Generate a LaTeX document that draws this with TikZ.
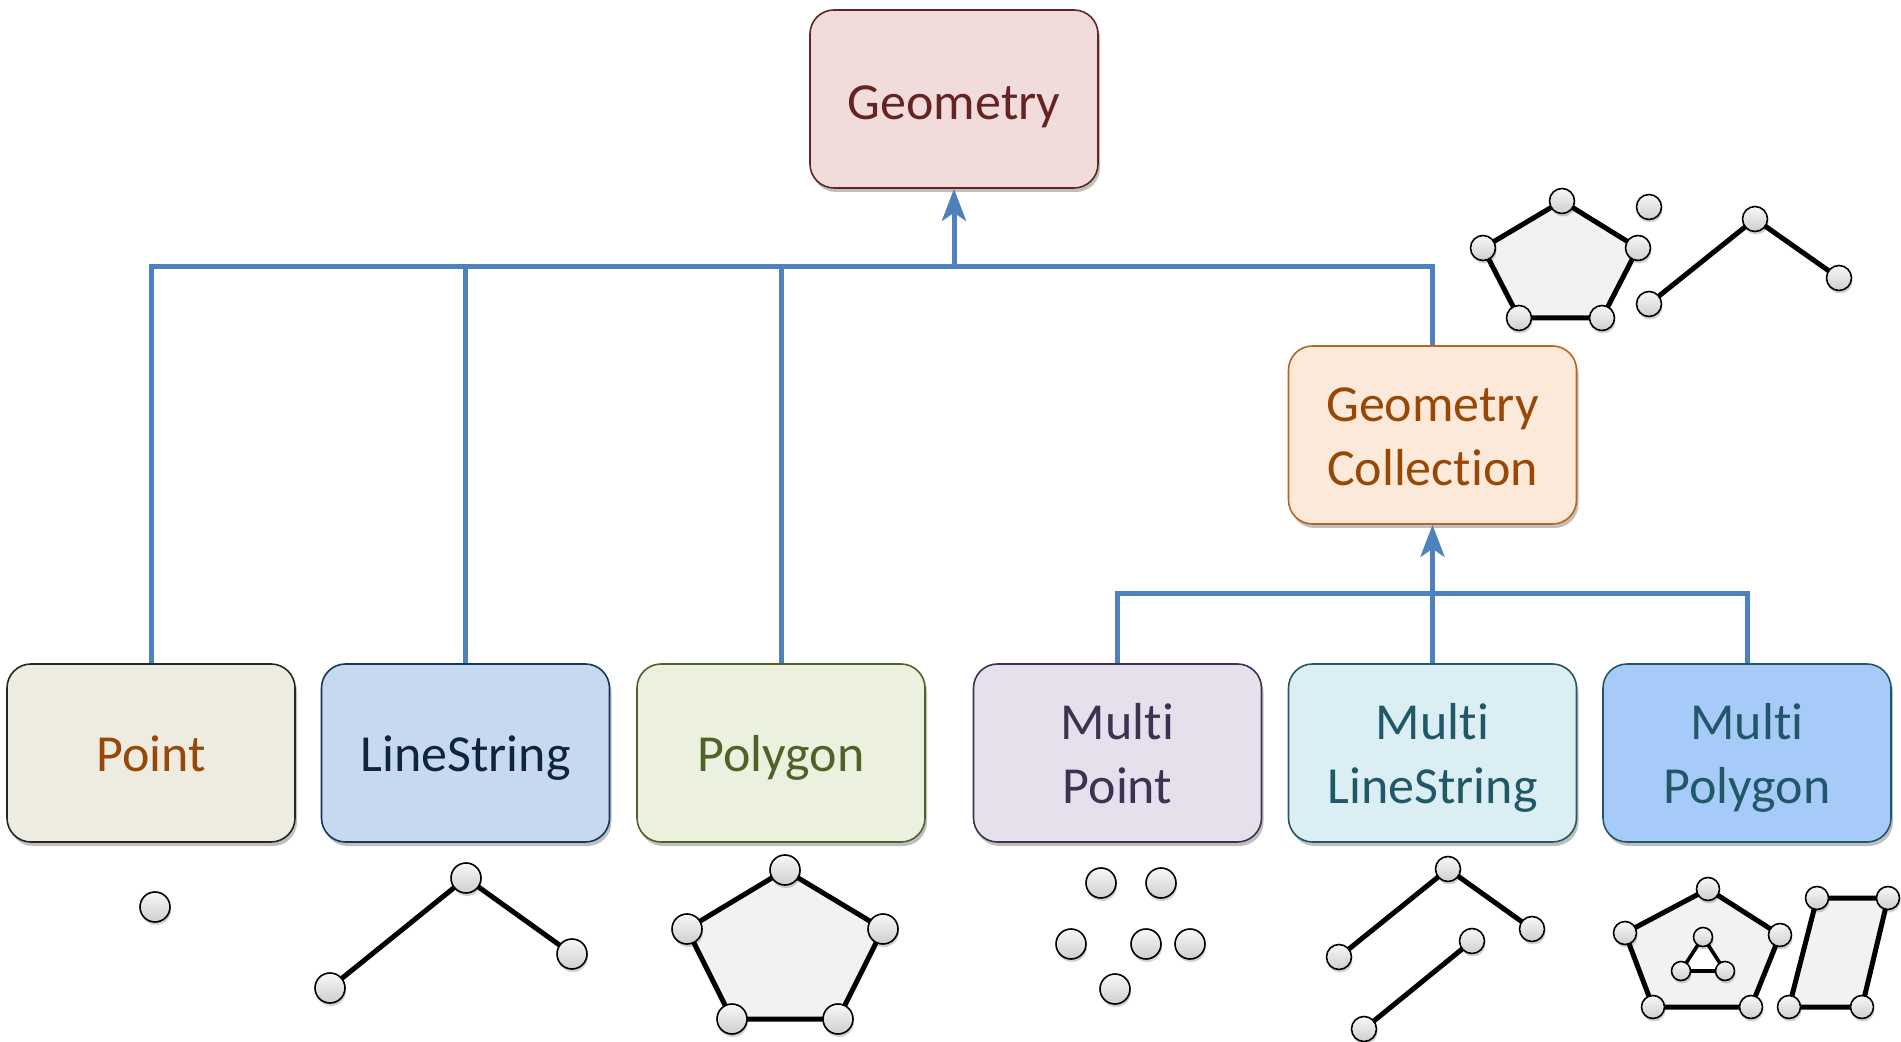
\documentclass[tikz,border=0pt]{standalone}
\usepackage{fontspec}
\setmainfont{Carlito}[Ligatures={NoCommon}]
\usetikzlibrary{shadows,arrows.meta}
\definecolor{connc}{HTML}{4F81BD}
\definecolor{polyfill}{HTML}{F2F2F2}
\definecolor{geomF}{HTML}{F2DCDB}\definecolor{geomD}{HTML}{632523}
\definecolor{gcolF}{HTML}{FDE9D9}\definecolor{gcolD}{HTML}{B9641F}\definecolor{gcolT}{HTML}{984806}
\definecolor{ptF}{HTML}{EEECE1}\definecolor{ptD}{HTML}{262626}
\definecolor{lsF}{HTML}{C6D9F1}\definecolor{lsD}{HTML}{17365D}\definecolor{lsT}{HTML}{0F243E}
\definecolor{pgF}{HTML}{EBF1DE}\definecolor{pgD}{HTML}{4F6228}
\definecolor{mpF}{HTML}{E5E0EC}\definecolor{mpD}{HTML}{3F3151}
\definecolor{mlsF}{HTML}{DBEEF4}\definecolor{mlsD}{HTML}{215868}
\definecolor{mpgF}{HTML}{A6CBF8}
\tikzset{
  box/.style={rectangle, rounded corners=12pt, minimum width=144pt, minimum height=89pt,
    inner sep=0pt, line width=0.8pt, font=\fontsize{26}{32}\selectfont,
    drop shadow={shadow xshift=1pt, shadow yshift=-2pt, opacity=0.25, fill=black}},
  conn/.style={draw=connc, line width=2.5pt},
  arr/.style={conn, -{Stealth[length=16pt,width=12pt,inset=4pt]}},
  iedge/.style={draw=black, line width=2.5pt, line join=round},
  ipoly/.style={iedge, fill=polyfill},
}
\newcommand\boxtext[2][3pt]{\raisebox{-#1}[\height][\depth]{\begin{tabular}{@{}c@{}}#2\end{tabular}}}
\newcommand\gvertex[3]{%
  \fill[black,opacity=.18] (#1+1,#2+3) circle[radius=#3];
  \shadedraw[top color=gray!6, bottom color=gray!38, draw=black, line width=0.8pt] (#1,#2) circle[radius=#3];}
\begin{document}
\begin{tikzpicture}[x=0.5pt,y=-0.5pt]
\useasboundingbox (0,0) rectangle (1901,1042);

% nodes
\node[box, fill=geomF, draw=geomD, text=geomD] (geom) at (954,99) {\boxtext[4pt]{Geometry}};
\node[box, fill=gcolF, draw=gcolD, text=gcolT] (gcol) at (1432.5,435) {\boxtext{Geometry\\Collection}};
\node[box, fill=ptF, draw=ptD, text=gcolT] (pt) at (151,753) {\boxtext{Point}};
\node[box, fill=lsF, draw=lsD, text=lsT] (ls) at (465.5,753) {\boxtext{LineString}};
\node[box, fill=pgF, draw=pgD, text=pgD] (pg) at (781,753) {\boxtext{Polygon}};
\node[box, fill=mpF, draw=mpD, text=mpD] (mp) at (1117.5,753) {\boxtext{Multi\\Point}};
\node[box, fill=mlsF, draw=mlsD, text=mlsD] (mls) at (1432.5,753) {\boxtext{Multi\\LineString}};
\node[box, fill=mpgF, draw=mlsD, text=mlsD] (mpg) at (1747,753) {\boxtext{Multi\\Polygon}};

% connectors
\coordinate (j1) at (954,267);
\coordinate (j2) at (1432.5,594);
\draw[conn] (pt.north) |- (j1);
\draw[conn] (ls.north) |- (j1);
\draw[conn] (pg.north) |- (j1);
\draw[conn] (gcol.north) |- (j1);
\draw[arr] (j1) -- (geom.south);
\draw[conn] (mp.north) |- (j2);
\draw[conn] (mpg.north) |- (j2);
\draw[arr] (mls.north) -- (gcol.south);

% Point icon
\gvertex{155}{907}{7.5pt}
% LineString icon
\draw[iedge] (330,988) -- (466,878) -- (572,954);
\gvertex{330}{988}{7.5pt}\gvertex{466}{878}{7.5pt}\gvertex{572}{954}{7.5pt}
% Polygon icon
\draw[ipoly] (785,870) -- (883,929) -- (838,1019) -- (732,1019) -- (687,929) -- cycle;
\gvertex{785}{870}{7.5pt}\gvertex{883}{929}{7.5pt}\gvertex{838}{1019}{7.5pt}\gvertex{732}{1019}{7.5pt}\gvertex{687}{929}{7.5pt}
% MultiPoint icon
\gvertex{1101}{883}{7.5pt}\gvertex{1161}{883}{7.5pt}\gvertex{1071}{944}{7.5pt}
\gvertex{1146}{944}{7.5pt}\gvertex{1190}{944}{7.5pt}\gvertex{1115}{989}{7.5pt}
% MultiLineString icon
\draw[iedge] (1339,957) -- (1448,869) -- (1532,929);
\draw[iedge] (1472,941) -- (1364,1029);
\gvertex{1339}{957}{6.25pt}\gvertex{1448}{869}{6.25pt}\gvertex{1532}{929}{6.25pt}
\gvertex{1472}{941}{6.25pt}\gvertex{1364}{1029}{6.25pt}
% MultiPolygon icon
\draw[ipoly] (1708,889) -- (1780,935) -- (1751,1007) -- (1653,1007) -- (1625,933) -- cycle;
\draw[draw=black, fill=white, line width=1.8pt, line join=round] (1703,937) -- (1725,971) -- (1681,971) -- cycle;
\draw[ipoly] (1817,898) -- (1888,898) -- (1862,1007) -- (1789,1007) -- cycle;
\gvertex{1708}{889}{5.75pt}\gvertex{1780}{935}{5.75pt}\gvertex{1751}{1007}{5.75pt}\gvertex{1653}{1007}{5.75pt}\gvertex{1625}{933}{5.75pt}
\gvertex{1703}{937}{4.75pt}\gvertex{1725}{971}{4.75pt}\gvertex{1681}{971}{4.75pt}
\gvertex{1817}{898}{5.75pt}\gvertex{1888}{898}{5.75pt}\gvertex{1862}{1007}{5.75pt}\gvertex{1789}{1007}{5.75pt}
% GeometryCollection icon
\draw[ipoly] (1562,201) -- (1638,248) -- (1602,318) -- (1519,318) -- (1483,248) -- cycle;
\draw[iedge] (1649,304) -- (1755,219) -- (1839,278);
\gvertex{1562}{201}{6.25pt}\gvertex{1638}{248}{6.25pt}\gvertex{1602}{318}{6.25pt}\gvertex{1519}{318}{6.25pt}\gvertex{1483}{248}{6.25pt}
\gvertex{1649}{207}{6.25pt}
\gvertex{1649}{304}{6.25pt}\gvertex{1755}{219}{6.25pt}\gvertex{1839}{278}{6.25pt}
\end{tikzpicture}
\end{document}
